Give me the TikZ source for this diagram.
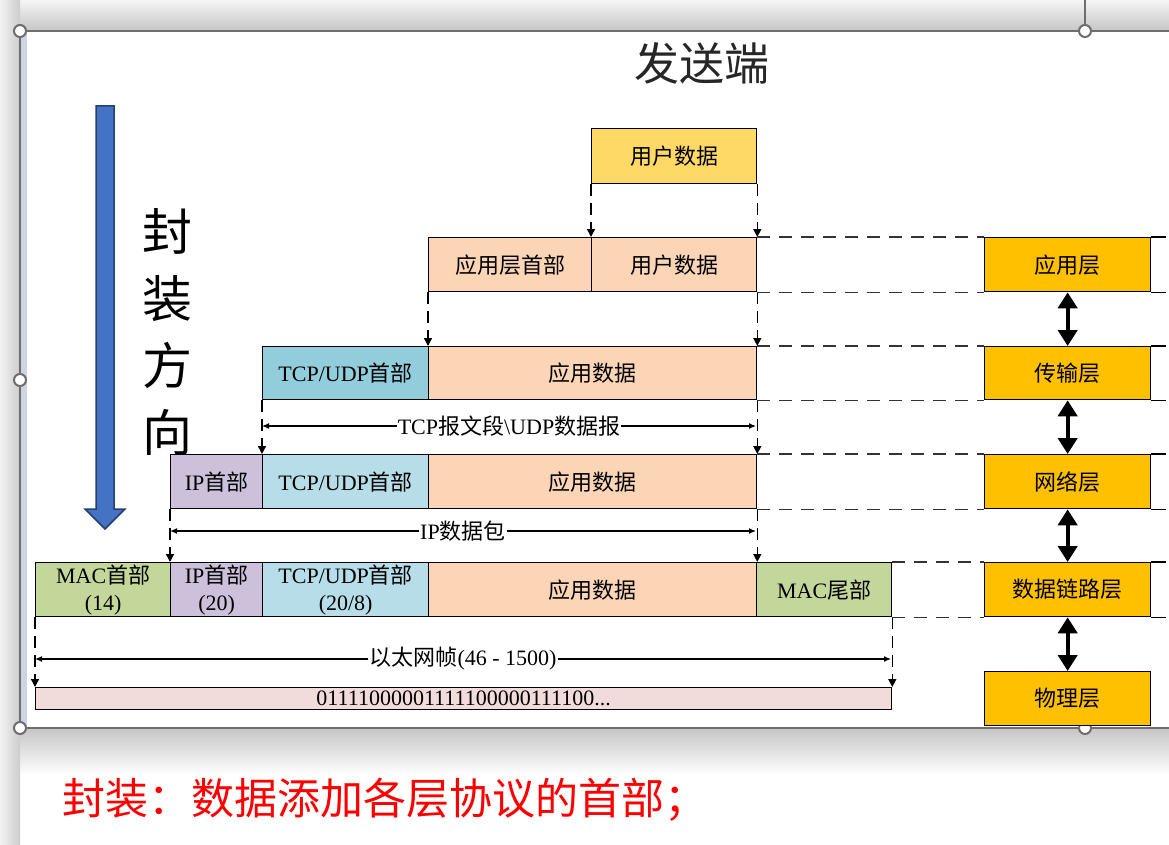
\documentclass[tikz,border=0pt]{standalone}
\usepackage{fontspec}
\setmainfont{Liberation Serif}
\newfontfamily\cjk{Noto Sans CJK SC}
\usetikzlibrary{arrows.meta}
\newcommand{\zh}[1]{{\cjk #1}}

\definecolor{userfill}{RGB}{255,217,102}
\definecolor{datafill}{RGB}{251,213,181}
\definecolor{tcpdark}{RGB}{146,205,220}
\definecolor{tcplight}{RGB}{183,222,232}
\definecolor{ipfill}{RGB}{204,192,218}
\definecolor{macfill}{RGB}{196,215,155}
\definecolor{bitfill}{RGB}{242,220,219}
\definecolor{layerfill}{RGB}{255,192,0}
\definecolor{arrowblue}{RGB}{68,114,196}
\definecolor{arrowedge}{RGB}{37,64,112}
\definecolor{handlegray}{RGB}{110,110,110}
\definecolor{stripblue}{RGB}{205,213,226}

\tikzset{
  seg/.style={draw, line width=1.3pt, anchor=north west, inner sep=0pt,
    minimum height=54pt, align=center, font=\fontsize{22}{27}\selectfont},
  layerbox/.style={seg, fill=layerfill, minimum width=166pt},
  drop/.style={line width=1.4pt, dash pattern=on 12pt off 7pt,
    -{Triangle[length=8pt,width=8pt]}},
  guideline/.style={line width=1.4pt, dash pattern=on 13pt off 9pt, black!80},
  span/.style={line width=1.2pt, -{Latex[length=7pt,width=6pt]}},
  spanlbl/.style={inner sep=1pt, font=\fontsize{22}{27}\selectfont},
  updown/.style={line width=4pt, {Triangle[length=16pt,width=19pt]}-{Triangle[length=16pt,width=19pt]}},
  handle/.style={fill=white, draw=handlegray, line width=2pt}
}

\begin{document}
\begin{tikzpicture}[x=1pt, y=-1pt]
  \useasboundingbox (0,0) rectangle (1169,845);

  % window around the slide
  \fill[white] (0,0) rectangle (1169,845);
  \shade[top color=gray!8, bottom color=gray!45] (0,0) rectangle (1169,31);
  \shade[top color=gray!45, bottom color=white] (20,728) rectangle (1169,775);
  \shade[left color=gray!10, right color=gray!40] (0,0) rectangle (20,845);
  \fill[stripblue] (20,31) rectangle (27,728);
  \draw[handlegray, line width=1.2pt] (1169,31) -- (20,31) -- (20,728) -- (1169,728);
  \draw[handlegray, line width=1.2pt] (1085,0) -- (1085,31);
  \foreach \p in {(20,31),(1085,31),(20,380),(20,728),(1085,728)}
    \filldraw[handle] \p circle[radius=6pt];

  % title
  \node[font=\cjk\fontsize{45}{50}\selectfont, text=black!85] (title) at (702,63) {发送端};

  % direction arrow
  \filldraw[fill=arrowblue, draw=arrowedge, line width=1.5pt]
    (96,106) -- (114,106) -- (114,509) -- (125,509) -- (105,529) -- (85,509) -- (96,509) -- cycle;
  \node[font=\cjk\fontsize{50}{67}\selectfont, align=center] (dirlbl) at (167,332) {封\\装\\方\\向};

  % user data
  \node[seg, fill=userfill, minimum width=165pt, minimum height=55pt] (user) at (591,128) {\zh{用户数据}};

  % application layer
  \node[seg, fill=datafill, minimum width=163pt] (apphdr) at (428,237) {\zh{应用层首部}};
  \node[seg, fill=datafill, minimum width=165pt] (appdata1) at (591,237) {\zh{用户数据}};

  % transport layer
  \node[seg, fill=tcpdark, minimum width=166pt, minimum height=53pt] (tcphdr1) at (262,346) {TCP/UDP\zh{首部}};
  \node[seg, fill=datafill, minimum width=328pt, minimum height=53pt] (appdata2) at (428,346) {\zh{应用数据}};

  % network layer
  \node[seg, fill=ipfill, minimum width=92pt] (iphdr1) at (170,454) {IP\zh{首部}};
  \node[seg, fill=tcplight, minimum width=166pt] (tcphdr2) at (262,454) {TCP/UDP\zh{首部}};
  \node[seg, fill=datafill, minimum width=328pt] (appdata3) at (428,454) {\zh{应用数据}};

  % data link layer
  \node[seg, fill=macfill, minimum width=135pt] (machdr) at (35,562) {MAC\zh{首部}\\(14)};
  \node[seg, fill=ipfill, minimum width=92pt] (iphdr2) at (170,562) {IP\zh{首部}\\(20)};
  \node[seg, fill=tcplight, minimum width=166pt] (tcphdr3) at (262,562) {TCP/UDP\zh{首部}\\(20/8)};
  \node[seg, fill=datafill, minimum width=328pt] (appdata4) at (428,562) {\zh{应用数据}};
  \node[seg, fill=macfill, minimum width=135pt] (mactail) at (756,562) {MAC\zh{尾部}};

  % bits
  \node[seg, fill=bitfill, minimum width=856pt, minimum height=22pt] (bits) at (35,687) {01111000001111100000111100...};

  % dashed drops
  \draw[drop] (user.south west) -- (appdata1.north west);
  \draw[drop] (user.south east) -- (appdata1.north east);
  \draw[drop] (apphdr.south west) -- (appdata2.north west);
  \draw[drop] (appdata1.south east) -- (appdata2.north east);
  \draw[drop] (tcphdr1.south west) -- (tcphdr2.north west);
  \draw[drop] (appdata2.south east) -- (appdata3.north east);
  \draw[drop] (iphdr1.south west) -- (iphdr2.north west);
  \draw[drop] (appdata3.south east) -- (appdata4.north east);
  \draw[drop] (machdr.south west) -- (bits.north west);
  \draw[drop] (mactail.south east) -- (bits.north east);

  % spans
  \node[spanlbl] (seglbl) at (509,426) {TCP\zh{报文段}\textbackslash UDP\zh{数据报}};
  \coordinate (segL) at (262,426);
  \coordinate (segR) at (756,426);
  \draw[span] (seglbl) -- (segL);
  \draw[span] (seglbl) -- (segR);

  \node[spanlbl] (pktlbl) at (463,531) {IP\zh{数据包}};
  \coordinate (pktL) at (170,531);
  \coordinate (pktR) at (756,531);
  \draw[span] (pktlbl) -- (pktL);
  \draw[span] (pktlbl) -- (pktR);

  \node[spanlbl] (framelbl) at (463,659) {\zh{以太网帧}(46 - 1500)};
  \coordinate (frameL) at (35,659);
  \coordinate (frameR) at (891,659);
  \draw[span] (framelbl) -- (frameL);
  \draw[span] (framelbl) -- (frameR);

  % layers
  \node[layerbox] (app) at (984,237) {\zh{应用层}};
  \node[layerbox, minimum height=53pt] (trans) at (984,346) {\zh{传输层}};
  \node[layerbox] (net) at (984,454) {\zh{网络层}};
  \node[layerbox] (link) at (984,562) {\zh{数据链路层}};
  \node[layerbox] (phy) at (984,671) {\zh{物理层}};

  % guide lines
  \draw[guideline] (appdata1.north east) -- (app.north west);
  \draw[guideline] (appdata1.south east) -- (app.south west);
  \draw[guideline] (appdata2.north east) -- (trans.north west);
  \draw[guideline] (appdata2.south east) -- (trans.south west);
  \draw[guideline] (appdata3.north east) -- (net.north west);
  \draw[guideline] (appdata3.south east) -- (net.south west);
  \draw[guideline] (mactail.north east) -- (link.north west);
  \draw[guideline] (mactail.south east) -- (link.south west);
  \foreach \n in {app,trans,net,link} {
    \draw[line width=1.3pt] (\n.north east) -- ++(15,0);
    \draw[line width=1.3pt] (\n.south east) -- ++(15,0);
  }

  % layer arrows
  \draw[updown] (app.south) -- (trans.north);
  \draw[updown] (trans.south) -- (net.north);
  \draw[updown] (net.south) -- (link.north);
  \draw[updown] (link.south) -- (phy.north);

  % note
  \node[font=\cjk\fontsize{43}{48}\selectfont, text=red, anchor=west, inner sep=0pt] (note) at (62,800) {封装：数据添加各层协议的首部；};
\end{tikzpicture}
\end{document}
